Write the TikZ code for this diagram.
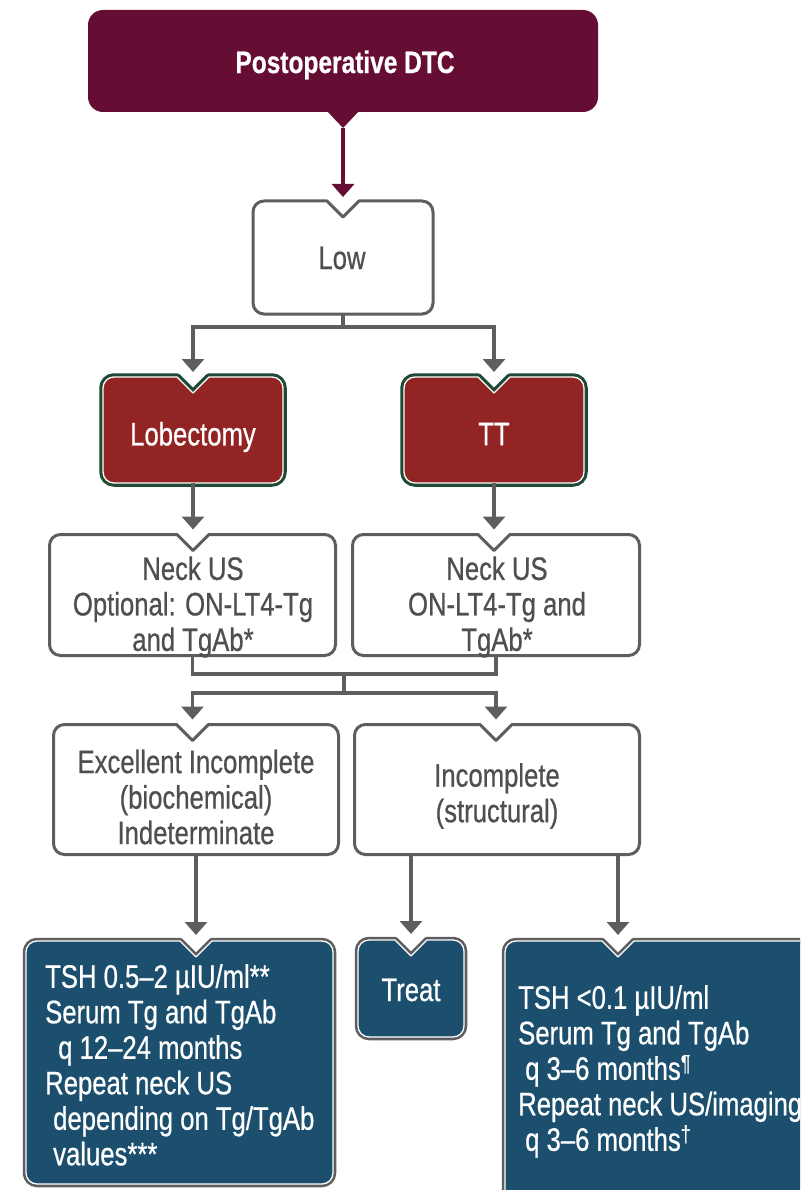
\documentclass[tikz,border=0pt]{standalone}
\usepackage{fontspec}
\setmainfont{Liberation Sans}[FakeStretch=0.79, FakeBold=0.6]
\usetikzlibrary{arrows.meta,calc}

\definecolor{plum}{HTML}{660D33}
\definecolor{brick}{HTML}{922524}
\definecolor{pine}{HTML}{1F4A36}
\definecolor{navy}{HTML}{1C4F6E}
\definecolor{wire}{HTML}{5E5E5E}
\definecolor{ink}{HTML}{4F4F4F}

\newcommand\fsz{\fontsize{32.5pt}{35.5pt}\selectfont}

% Rounded box with a V-shaped notch cut into its top edge.
% #1 geometry node, #2 notch point on the top edge, #3 drawing options
\newcommand\notchbox[3]{%
  \draw[line join=round, #3]
    (#1.west) -- ([yshift=-11pt]#1.north west)
    arc[start angle=180, end angle=90, radius=11pt]
    -- ([xshift=-16pt]#2) -- ([yshift=-16pt]#2) -- ([xshift=16pt]#2)
    -- ([xshift=-11pt]#1.north east)
    arc[start angle=90, end angle=0, radius=11pt]
    -- ([yshift=11pt]#1.south east)
    arc[start angle=0, end angle=-90, radius=11pt]
    -- ([xshift=11pt]#1.south west)
    arc[start angle=270, end angle=180, radius=11pt]
    -- cycle;}

\begin{document}
\begin{tikzpicture}[x=1pt, y=-1pt,
  geo/.style={inner sep=0pt, outer sep=0pt},
  lbl/.style={font=\fsz, text=ink, align=center, inner sep=0pt},
  wlbl/.style={font=\fsz, text=white, align=center, inner sep=0pt},
  wleft/.style={font=\fsz, text=white, align=left, inner sep=0pt, anchor=north west},
  plainbox/.style={draw=wire, line width=3pt, fill=white},
  conn/.style={draw=wire, line width=3.2pt},
  arr/.style={conn, -{Triangle[width=22pt,length=13pt]}},
]
\useasboundingbox (0,0) rectangle (800,1190);
\clip (0,0) rectangle (800,1190);

% ---- geometry of the boxes
\node[geo, minimum width=510pt, minimum height=102pt] (top)    at (343,61)      {};
\node[geo, minimum width=180pt, minimum height=113pt] (low)    at (343,257.5)   {};
\node[geo, minimum width=180pt, minimum height=106pt] (lob)    at (193,430)     {};
\node[geo, minimum width=180pt, minimum height=106pt] (tt)     at (494,430)     {};
\node[geo, minimum width=286pt, minimum height=121pt] (neck1)  at (192.5,595)   {};
\node[geo, minimum width=287pt, minimum height=121pt] (neck2)  at (496,595)     {};
\node[geo, minimum width=285pt, minimum height=130pt] (exc)    at (196,789.5)   {};
\node[geo, minimum width=285pt, minimum height=130pt] (inc)    at (497,789.5)   {};
\node[geo, minimum width=307pt, minimum height=243pt] (lblue)  at (179.5,1062.5){};
\node[geo, minimum width=106pt, minimum height=97pt]  (treat)  at (411,988.5)   {};
\node[geo, minimum width=335pt, minimum height=269pt] (rblue)  at (672.5,1075.5){};

% ---- notch points
\coordinate (lown)  at (low.north);
\coordinate (lobn)  at (lob.north);
\coordinate (ttn)   at (tt.north);
\coordinate (n1n)   at (lob.south |- neck1.north);
\coordinate (n2n)   at (tt.south |- neck2.north);
\coordinate (excn)  at (neck1.south |- exc.north);
\coordinate (incn)  at (neck2.south |- inc.north);
\coordinate (lbn)   at (exc.south |- lblue.north);
\coordinate (trn)   at (treat.north);
\coordinate (rcol)  at ([xshift=121pt]inc.south);
\coordinate (rbn)   at (rcol |- rblue.north);

% ---- title box with its pointer
\fill[plum, rounded corners=15pt] (top.south west) rectangle (top.north east);
\fill[plum] ([xshift=-16pt,yshift=1pt]top.south) -- ([yshift=-16pt]top.south)
  -- ([xshift=16pt,yshift=1pt]top.south) -- cycle;
\coordinate (toptip) at ([yshift=-16pt]top.south);

% ---- boxes
\notchbox{low}{lown}{plainbox}
\foreach \b in {lob,tt}{
  \notchbox{\b}{\b n}{draw=pine, line width=7.5pt}
  \notchbox{\b}{\b n}{fill=brick, draw=white, line width=1.3pt}
}
\notchbox{neck1}{n1n}{plainbox}
\notchbox{neck2}{n2n}{plainbox}
\notchbox{exc}{excn}{plainbox}
\notchbox{inc}{incn}{plainbox}
\notchbox{lblue}{lbn}{draw=wire, line width=6.5pt}
\notchbox{lblue}{lbn}{fill=navy, draw=white, line width=1.3pt}
\notchbox{treat}{trn}{draw=wire, line width=6.5pt}
\notchbox{treat}{trn}{fill=navy, draw=white, line width=1.3pt}
\notchbox{rblue}{rbn}{draw=wire, line width=6.5pt}
\notchbox{rblue}{rbn}{fill=navy, draw=white, line width=1.3pt}

% ---- connectors
\draw[plum, line width=3.4pt, -{Triangle[width=22pt,length=13pt]}]
  (toptip) -- ([yshift=4pt]lown);
\coordinate (s1) at (low.south |- 0,327);
\draw[conn] (low.south) -- (s1);
\draw[arr] (s1) -| ([yshift=5pt]lobn);
\draw[arr] (s1) -| ([yshift=5pt]ttn);
\draw[arr] (lob.south) -- ([yshift=5pt]n1n);
\draw[arr] (tt.south) -- ([yshift=5pt]n2n);
\coordinate (b1) at (344,674);
\coordinate (b2) at (344,693);
\draw[conn] (neck1.south) |- (b1) -| (neck2.south);
\draw[conn] (b1) -- (b2);
\draw[arr] (b2) -| ([yshift=5pt]excn);
\draw[arr] (b2) -| ([yshift=5pt]incn);
\draw[arr] (exc.south) -- ([yshift=6pt]lbn);
\draw[arr] (inc.south -| treat.north) -- ([yshift=6pt]trn);
\draw[arr] (rcol) -- ([yshift=6pt]rbn);

% ---- texts
\node[wlbl, font=\fontsize{31pt}{34pt}\selectfont\bfseries] (topt) at (345,65) {Postoperative DTC};
\node[lbl]  (lowt)   at (342,258) {Low};
\node[wlbl] (lobt)   at (193,437) {Lobectomy};
\node[wlbl] (ttt)    at (494,434) {TT};
\node[lbl]  (neck1t) at (193,607) {Neck US\\Optional: ON-LT4-Tg\\and TgAb*};
\node[lbl]  (neck2t) at (497,607) {Neck US\\ON-LT4-Tg and\\TgAb*};
\node[lbl]  (exct)   at (196,797) {Excellent Incomplete\\(biochemical)\\Indeterminate};
\node[lbl]  (inct)   at (497,796) {Incomplete\\(structural)};
\node[wlbl] (treatt) at (411,990) {Treat};
\node[wleft] (lbluet) at (45,964) {TSH 0.5–2 µIU/ml**\\Serum Tg and TgAb\\\hspace*{13pt}q 12–24 months\\Repeat neck US\\\hspace*{8pt}depending on Tg/TgAb\\\hspace*{8pt}values***};
\node[wleft] (rbluet) at (518,985) {TSH <0.1 µIU/ml\\Serum Tg and TgAb\\\hspace*{7pt}q 3–6 months\textsuperscript{¶}\\Repeat neck US/imaging\\\hspace*{7pt}q 3–6 months\textsuperscript{†}};
\end{tikzpicture}
\end{document}
